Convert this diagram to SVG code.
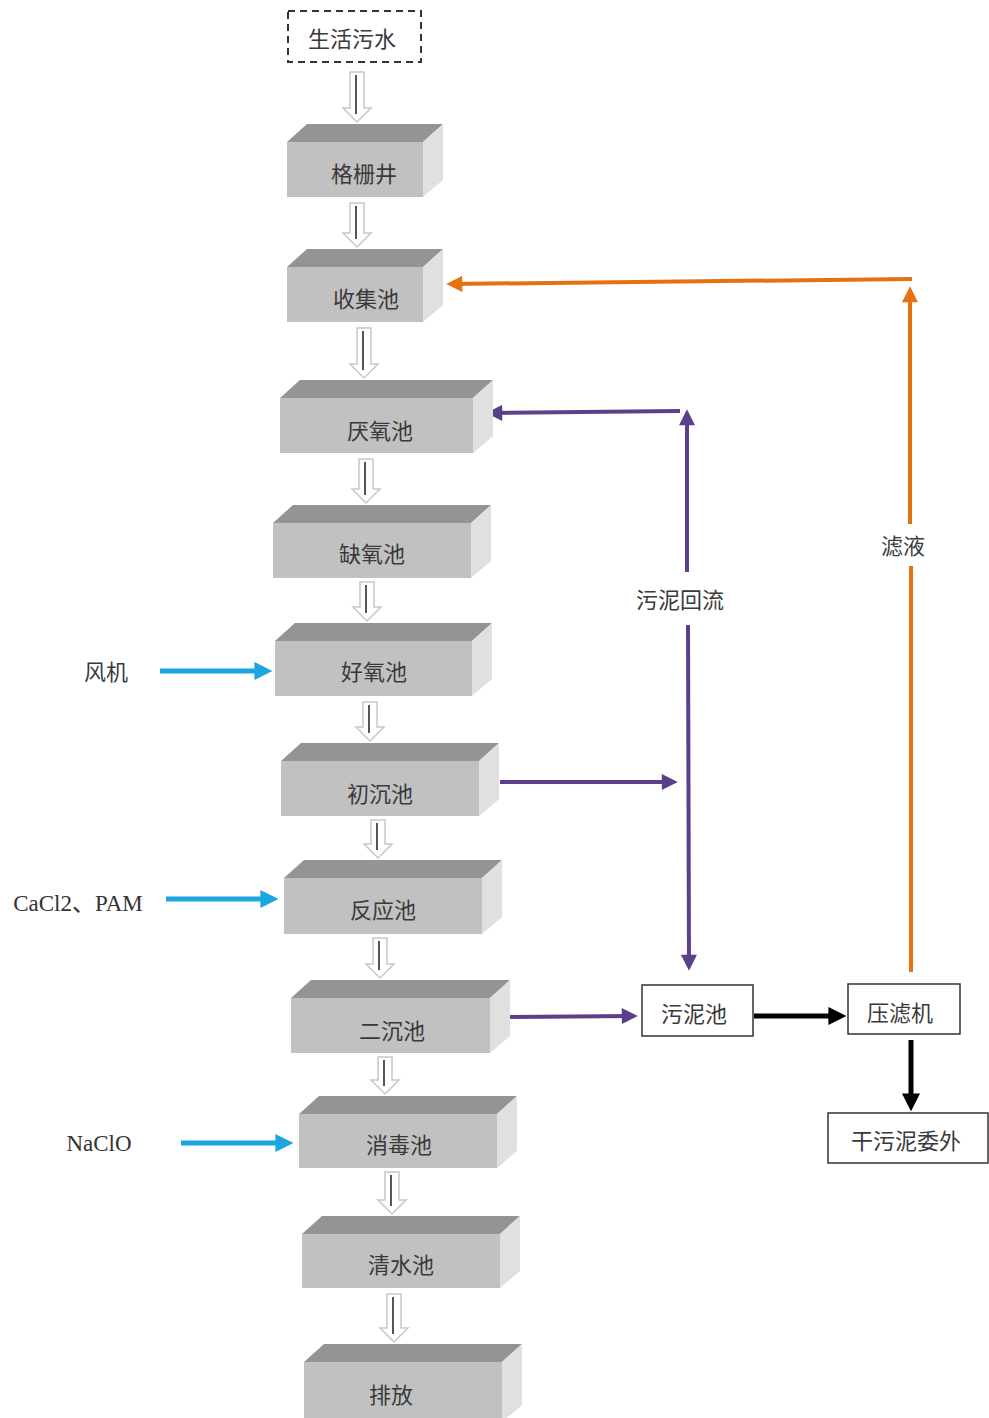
<svg xmlns="http://www.w3.org/2000/svg" width="989" height="1418" viewBox="0 0 989 1418">
<style>
.t{font-family:"Noto Sans CJK SC","Noto Sans",sans-serif;font-size:22px;fill:#3a3a3a;text-anchor:middle;dominant-baseline:central}
.l{font-family:"Liberation Serif","Noto Sans CJK SC",serif;font-size:23px;fill:#333;text-anchor:middle;dominant-baseline:central}
.top{fill:#949494}
.front{fill:#c1c1c1}
.side{fill:#e0e0e0}
.ha{fill:#fff;stroke:#c8c8c8;stroke-width:1.5}
.hl{stroke:#555;stroke-width:2}
.box{fill:#fff;stroke:#333;stroke-width:1.5}
.pu{stroke:#5b3f8a;stroke-width:4;fill:none}
.or{stroke:#e5720f;stroke-width:4;fill:none}
.bl{stroke:#1ba6e0;stroke-width:5;fill:none}
.bk{stroke:#000;stroke-width:5;fill:none}
</style>
<defs>
<marker id="mp" viewBox="0 0 10 10" refX="7" refY="5" markerWidth="18" markerHeight="16" markerUnits="userSpaceOnUse" orient="auto"><path d="M0,0 L10,5 L0,10 z" fill="#5b3f8a"/></marker>
<marker id="mo" viewBox="0 0 10 10" refX="7" refY="5" markerWidth="18" markerHeight="16" markerUnits="userSpaceOnUse" orient="auto"><path d="M0,0 L10,5 L0,10 z" fill="#e5720f"/></marker>
<marker id="mb" viewBox="0 0 10 10" refX="7" refY="5" markerWidth="18" markerHeight="18" markerUnits="userSpaceOnUse" orient="auto"><path d="M0,0 L10,5 L0,10 z" fill="#1ba6e0"/></marker>
<marker id="mk" viewBox="0 0 10 10" refX="7" refY="5" markerWidth="18" markerHeight="18" markerUnits="userSpaceOnUse" orient="auto"><path d="M0,0 L10,5 L0,10 z" fill="#000"/></marker>
</defs>

<g id="connectors">
<path class="ha" d="M350,72 L364,72 L364,108 L371,108 L357,122 L343,108 L350,108 Z"/><line class="hl" x1="356" y1="75" x2="356" y2="114"/>
<path class="ha" d="M350,203 L364,203 L364,233 L371,233 L357,247 L343,233 L350,233 Z"/><line class="hl" x1="356" y1="206" x2="356" y2="239"/>
<path class="ha" d="M357,328 L371,328 L371,364 L378,364 L364,378 L350,364 L357,364 Z"/><line class="hl" x1="363" y1="331" x2="363" y2="370"/>
<path class="ha" d="M359,459 L373,459 L373,489 L380,489 L366,503 L352,489 L359,489 Z"/><line class="hl" x1="365" y1="462" x2="365" y2="495"/>
<path class="ha" d="M360,582 L374,582 L374,607 L381,607 L367,621 L353,607 L360,607 Z"/><line class="hl" x1="366" y1="585" x2="366" y2="613"/>
<path class="ha" d="M363,702 L377,702 L377,727 L384,727 L370,741 L356,727 L363,727 Z"/><line class="hl" x1="369" y1="705" x2="369" y2="733"/>
<path class="ha" d="M371,820 L385,820 L385,844 L392,844 L378,858 L364,844 L371,844 Z"/><line class="hl" x1="377" y1="823" x2="377" y2="850"/>
<path class="ha" d="M373,938 L387,938 L387,964 L394,964 L380,978 L366,964 L373,964 Z"/><line class="hl" x1="379" y1="941" x2="379" y2="970"/>
<path class="ha" d="M378,1057 L392,1057 L392,1080 L399,1080 L385,1094 L371,1080 L378,1080 Z"/><line class="hl" x1="384" y1="1060" x2="384" y2="1086"/>
<path class="ha" d="M385,1172 L399,1172 L399,1200 L406,1200 L392,1214 L378,1200 L385,1200 Z"/><line class="hl" x1="391" y1="1175" x2="391" y2="1206"/>
<path class="ha" d="M387,1294 L401,1294 L401,1328 L408,1328 L394,1342 L380,1328 L387,1328 Z"/><line class="hl" x1="393" y1="1297" x2="393" y2="1334"/>

<line class="pu" x1="687" y1="572" x2="687" y2="414" marker-end="url(#mp)"/>
<line class="pu" x1="680" y1="411" x2="491" y2="413" marker-end="url(#mp)"/>
<line class="pu" x1="688" y1="625" x2="689" y2="966" marker-end="url(#mp)"/>
<line class="pu" x1="500" y1="782" x2="673" y2="782" marker-end="url(#mp)"/>
<line class="pu" x1="510" y1="1017" x2="633" y2="1016" marker-end="url(#mp)"/>

<line class="or" x1="911" y1="972" x2="911" y2="566"/>
<line class="or" x1="910" y1="524" x2="910" y2="291" marker-end="url(#mo)"/>
<line class="or" x1="912" y1="279" x2="451" y2="284" marker-end="url(#mo)"/>

<line class="bl" x1="160" y1="671" x2="267" y2="671" marker-end="url(#mb)"/>
<line class="bl" x1="166" y1="899" x2="273" y2="899" marker-end="url(#mb)"/>
<line class="bl" x1="181" y1="1143" x2="288" y2="1143" marker-end="url(#mb)"/>

<line class="bk" x1="754" y1="1016" x2="841" y2="1016" marker-end="url(#mk)"/>
<line class="bk" x1="911" y1="1040" x2="911" y2="1106" marker-end="url(#mk)"/>
</g>

<g id="n0"><rect x="288" y="11" width="133" height="51" fill="#fff" stroke="#333" stroke-width="2" stroke-dasharray="7,5"/><text class="t" x="352" y="37">生活污水</text></g>

<g id="n1"><polygon class="top" points="287,142 307,124 443,124 423,142"/><polygon class="side" points="423,142 443,124 443,180 423,197"/><rect class="front" x="287" y="142" width="136" height="55"/><text class="t" x="364" y="172">格栅井</text></g>
<g id="n2"><polygon class="top" points="287,267 307,249 443,249 423,267"/><polygon class="side" points="423,267 443,249 443,305 423,322"/><rect class="front" x="287" y="267" width="136" height="55"/><text class="t" x="366" y="297">收集池</text></g>
<g id="n3"><polygon class="top" points="280,398 300,380 493,380 473,398"/><polygon class="side" points="473,398 493,380 493,436 473,453"/><rect class="front" x="280" y="398" width="193" height="55"/><text class="t" x="380" y="429">厌氧池</text></g>
<g id="n4"><polygon class="top" points="273,523 293,505 491,505 471,523"/><polygon class="side" points="471,523 491,505 491,561 471,578"/><rect class="front" x="273" y="523" width="198" height="55"/><text class="t" x="372" y="552">缺氧池</text></g>
<g id="n5"><polygon class="top" points="275,641 295,623 492,623 472,641"/><polygon class="side" points="472,641 492,623 492,679 472,696"/><rect class="front" x="275" y="641" width="197" height="55"/><text class="t" x="374" y="670">好氧池</text></g>
<g id="n6"><polygon class="top" points="281,761 301,743 499,743 479,761"/><polygon class="side" points="479,761 499,743 499,799 479,816"/><rect class="front" x="281" y="761" width="198" height="55"/><text class="t" x="380" y="792">初沉池</text></g>
<g id="n7"><polygon class="top" points="284,878 304,860 502,860 482,878"/><polygon class="side" points="482,878 502,860 502,917 482,934"/><rect class="front" x="284" y="878" width="198" height="56"/><text class="t" x="383" y="908">反应池</text></g>
<g id="n8"><polygon class="top" points="291,998 311,980 510,980 490,998"/><polygon class="side" points="490,998 510,980 510,1036 490,1053"/><rect class="front" x="291" y="998" width="199" height="55"/><text class="t" x="392" y="1029">二沉池</text></g>
<g id="n9"><polygon class="top" points="299,1114 319,1096 517,1096 497,1114"/><polygon class="side" points="497,1114 517,1096 517,1151 497,1168"/><rect class="front" x="299" y="1114" width="198" height="54"/><text class="t" x="399" y="1143">消毒池</text></g>
<g id="n10"><polygon class="top" points="302,1234 322,1216 520,1216 500,1234"/><polygon class="side" points="500,1234 520,1216 520,1271 500,1288"/><rect class="front" x="302" y="1234" width="198" height="54"/><text class="t" x="401" y="1263">清水池</text></g>
<g id="n11"><polygon class="top" points="304,1362 324,1344 522,1344 502,1362"/><polygon class="side" points="502,1362 522,1344 522,1405 502,1422"/><rect class="front" x="304" y="1362" width="198" height="60"/><text class="t" x="391" y="1393">排放</text></g>

<g id="n12"><rect class="box" x="642" y="985" width="111" height="51"/><text class="t" x="694" y="1012">污泥池</text></g>
<g id="n13"><rect class="box" x="848" y="984" width="112" height="50"/><text class="t" x="900" y="1011">压滤机</text></g>
<g id="n14"><rect class="box" x="828" y="1113" width="160" height="50"/><text class="t" x="906" y="1139">干污泥委外</text></g>

<g id="labels">
<text class="t" x="680" y="598">污泥回流</text>
<text class="t" x="903" y="544">滤液</text>
<text class="t" x="106" y="670">风机</text>
<text class="l" x="78" y="903">CaCl2、PAM</text>
<text class="l" x="99" y="1143">NaClO</text>
</g>
</svg>
